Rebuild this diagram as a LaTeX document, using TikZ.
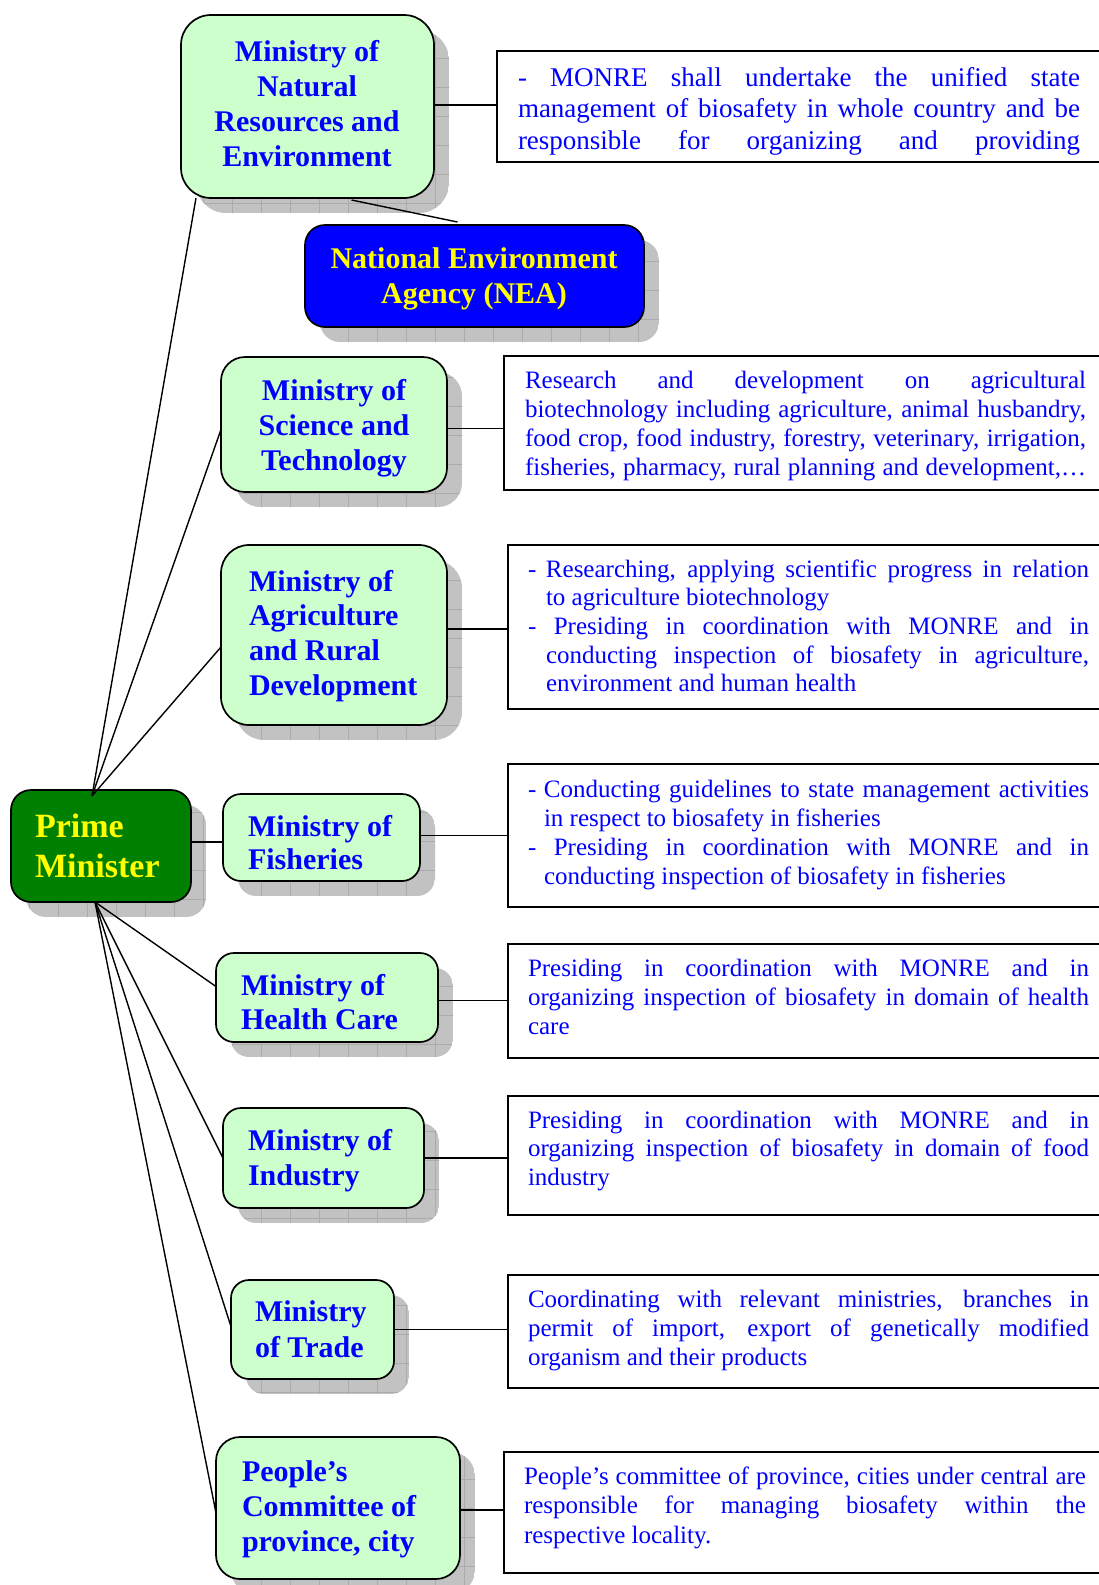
\documentclass[tikz,border=0pt]{standalone}
\usepackage{fontspec}
\setmainfont{Liberation Serif}
\usetikzlibrary{calc}
\definecolor{lgreen}{HTML}{CCFFCC}
\definecolor{mblue}{HTML}{0000FF}
\definecolor{pmgreen}{HTML}{008000}
\definecolor{nyellow}{HTML}{FFFF00}
\definecolor{shadowc}{HTML}{C2C2C2}
\definecolor{gridc}{HTML}{ABABAB}
\pgfdeclarelayer{bg}
\pgfsetlayers{bg,main}
\newcommand\shadowof[2]{%
  \begin{scope}
    \clip[rounded corners=#2] ($(#1.north west)+(15,15)$) rectangle ($(#1.south east)+(15,15)$);
    \fill[shadowc] ($(#1.north west)+(15,15)$) rectangle ($(#1.south east)+(15,15)$);
    \draw[gridc, line width=0.6pt, step=29pt] ($(#1.south west)+(0,30)$) grid ($(#1.north east)+(30,0)$);
  \end{scope}}
\newcommand\jline[2]{\makebox[#1pt][s]{#2}}
% bold box texts: #1 = baselineskip, #2 = lines
\newcommand\bl[2]{\parbox[t]{400pt}{\fontsize{30}{#1}\selectfont\bfseries\raggedright #2}}
\newcommand\bc[2]{\parbox[t]{400pt}{\fontsize{30}{#1}\selectfont\bfseries\centering #2}}
\begin{document}
\begin{tikzpicture}[x=1pt,y=-1pt,
  mbox/.style={draw, line width=1.7pt, fill=lgreen, inner sep=0pt, outer sep=0pt},
  tbox/.style={draw, line width=1.6pt, rectangle, inner sep=0pt, outer sep=0pt, anchor=north west},
  ttext/.style={anchor=base west, inner sep=0pt, outer sep=0pt, text=mblue},
  mtext/.style={inner sep=0pt, outer sep=0pt, text=mblue},
  conn/.style={line width=1.4pt},
  hconn/.style={line width=1.9pt}]
\useasboundingbox (0,0) rectangle (1099,1585);

% ministry boxes
\node[mbox, rounded corners=30pt, minimum width=253pt, minimum height=183pt] (monre) at (307.5,106.5) {};
\node[mbox, fill=mblue, rounded corners=20pt, minimum width=339pt, minimum height=102pt] (nea) at (474.5,276) {};
\node[mbox, rounded corners=24pt, minimum width=226pt, minimum height=135pt] (most) at (334,424.5) {};
\node[mbox, rounded corners=28pt, minimum width=226pt, minimum height=180pt] (mard) at (334,635) {};
\node[mbox, fill=pmgreen, rounded corners=20pt, minimum width=180pt, minimum height=112pt] (pm) at (101,846) {};
\node[mbox, rounded corners=18pt, minimum width=197pt, minimum height=87pt] (fish) at (321.5,837.5) {};
\node[mbox, rounded corners=18pt, minimum width=222pt, minimum height=89pt] (health) at (327,997.5) {};
\node[mbox, rounded corners=18pt, minimum width=201pt, minimum height=100pt] (industry) at (323.5,1158) {};
\node[mbox, rounded corners=18pt, minimum width=163pt, minimum height=99pt] (trade) at (312.5,1329.5) {};
\node[mbox, rounded corners=24pt, minimum width=244pt, minimum height=142pt] (people) at (338,1508) {};

% box texts
\node[mtext, anchor=base] (monreT) at (307,61) {\bc{35.3}{Ministry of\\Natural\\Resources and\\Environment}};
\node[mtext, anchor=base, text=nyellow] (neaT) at (474,268) {\bc{35}{National Environment\\Agency (NEA)}};
\node[mtext, anchor=base] (mostT) at (334,400) {\bc{35}{Ministry of\\Science and\\Technology}};
\node[mtext, anchor=base west] (mardT) at (249,591) {\bl{34.7}{Ministry of\\Agriculture\\and Rural\\Development}};
\node[mtext, anchor=base west, text=nyellow] (pmT) at (35,837) {\parbox[t]{300pt}{\fontsize{34}{40}\selectfont\bfseries\raggedright Prime\\Minister}};
\node[mtext, anchor=base west] (fishT) at (248,836) {\bl{33}{Ministry of\\Fisheries}};
\node[mtext, anchor=base west] (healthT) at (241,995) {\bl{34}{Ministry of\\Health Care}};
\node[mtext, anchor=base west] (industryT) at (248,1150) {\bl{35}{Ministry of\\Industry}};
\node[mtext, anchor=base west] (tradeT) at (255,1321) {\bl{36}{Ministry\\of Trade}};
\node[mtext, anchor=base west] (peopleT) at (242,1481) {\bl{35}{People’s\\Committee of\\province, city}};

% text boxes
\node[tbox, minimum width=613pt, minimum height=111pt] (t1) at (497,51) {};
\node[tbox, minimum width=606pt, minimum height=134pt] (t2) at (504,356) {};
\node[tbox, minimum width=602pt, minimum height=164pt] (t3) at (508,545) {};
\node[tbox, minimum width=602pt, minimum height=143pt] (t4) at (508,764) {};
\node[tbox, minimum width=602pt, minimum height=114pt] (t5) at (508,944) {};
\node[tbox, minimum width=602pt, minimum height=119pt] (t6) at (508,1096) {};
\node[tbox, minimum width=602pt, minimum height=113pt] (t7) at (508,1275) {};
\node[tbox, minimum width=606pt, minimum height=121pt] (t8) at (504,1452) {};

% texts
\node[ttext] (x1) at (518,86) {\parbox[t]{600pt}{\fontsize{27}{31.5}\selectfont
\jline{562}{- MONRE shall undertake the unified state}\\
\jline{562}{management of biosafety in whole country and be}\\
\jline{562}{responsible for organizing and providing}}};
\node[ttext] (x2) at (525,388) {\parbox[t]{600pt}{\fontsize{25}{29}\selectfont
\jline{561}{Research and development on agricultural}\\
\jline{561}{biotechnology including agriculture, animal husbandry,}\\
\jline{561}{food crop, food industry, forestry, veterinary, irrigation,}\\
\jline{561}{fisheries, pharmacy, rural planning and development,…}}};
\node[ttext] (x3) at (528,577) {\parbox[t]{600pt}{\fontsize{25}{28.7}\selectfont
\makebox[18pt][l]{-}\jline{543}{Researching, applying scientific progress in relation}\\
\hspace*{18pt}to agriculture biotechnology\\
\jline{561}{- Presiding in coordination with MONRE and in}\\
\hspace*{18pt}\jline{543}{conducting inspection of biosafety in agriculture,}\\
\hspace*{18pt}environment and human health}};
\node[ttext] (x4) at (528,797) {\parbox[t]{600pt}{\fontsize{25}{29}\selectfont
\makebox[16pt][l]{-}\jline{545}{Conducting guidelines to state management activities}\\
\hspace*{16pt}in respect to biosafety in fisheries\\
\jline{561}{- Presiding in coordination with MONRE and in}\\
\hspace*{16pt}conducting inspection of biosafety in fisheries}};
\node[ttext] (x5) at (528,976) {\parbox[t]{600pt}{\fontsize{25}{29}\selectfont
\jline{561}{Presiding in coordination with MONRE and in}\\
\jline{561}{organizing inspection of biosafety in domain of health}\\
care}};
\node[ttext] (x6) at (528,1128) {\parbox[t]{600pt}{\fontsize{25}{28.5}\selectfont
\jline{561}{Presiding in coordination with MONRE and in}\\
\jline{561}{organizing inspection of biosafety in domain of food}\\
industry}};
\node[ttext] (x7) at (528,1307) {\parbox[t]{600pt}{\fontsize{25}{29}\selectfont
\jline{561}{Coordinating with relevant ministries, branches in}\\
\jline{561}{permit of import, export of genetically modified}\\
organism and their products}};
\node[ttext] (x8) at (524,1484) {\parbox[t]{600pt}{\fontsize{25}{29.5}\selectfont
\jline{562}{People’s committee of province, cities under central are}\\
\jline{562}{responsible for managing biosafety within the}\\
respective locality.}};

% connectors
\coordinate (pmt) at ($(pm.north)+(-9,6)$);
\coordinate (pmb) at ($(pm.south)+(-6,0)$);
\draw[conn] (pmt) -- ($(monre.south west)+(15,0)$);
\draw[conn] (pmt) -- ($(most.west)+(0,5)$);
\draw[conn] (pmt) -- ($(mard.west)+(0,12)$);
\draw[conn] (pmb) -- ($(health.west)+(0,-11)$);
\draw[conn] (pmb) -- (industry.west);
\draw[conn] (pmb) -- ($(trade.west)+(0,-3)$);
\draw[conn] (pmb) -- ($(people.west)+(0,5)$);
\draw[hconn] ($(pm.east)+(0,-4)$) -- ($(fish.west)+(0,4.5)$);
\draw[conn] ($(monre.south)+(44,2)$) -- ($(nea.north)+(-17,-3)$);

\draw[hconn] ($(monre.east)+(0,-1.5)$) -- ($(monre.east -| t1.west)+(0,-1.5)$);
\draw[hconn] ($(most.east)+(0,4)$) -- ($(most.east -| t2.west)+(0,4)$);
\draw[hconn] ($(mard.east)+(0,-6)$) -- ($(mard.east -| t3.west)+(0,-6)$);
\draw[hconn] ($(fish.east)+(0,-2)$) -- ($(fish.east -| t4.west)+(0,-2)$);
\draw[hconn] ($(health.east)+(0,3)$) -- ($(health.east -| t5.west)+(0,3)$);
\draw[hconn] (industry.east) -- (industry.east -| t6.west);
\draw[hconn] (trade.east) -- (trade.east -| t7.west);
\draw[hconn] ($(people.east)+(0,2)$) -- ($(people.east -| t8.west)+(0,2)$);

\begin{pgfonlayer}{bg}
\fill[white] (0,0) rectangle (1099,1585);
\shadowof{monre}{30pt}
\shadowof{nea}{20pt}
\shadowof{most}{24pt}
\shadowof{mard}{28pt}
\shadowof{pm}{20pt}
\shadowof{fish}{18pt}
\shadowof{health}{18pt}
\shadowof{industry}{18pt}
\shadowof{trade}{18pt}
\shadowof{people}{24pt}
\end{pgfonlayer}
\end{tikzpicture}
\end{document}
